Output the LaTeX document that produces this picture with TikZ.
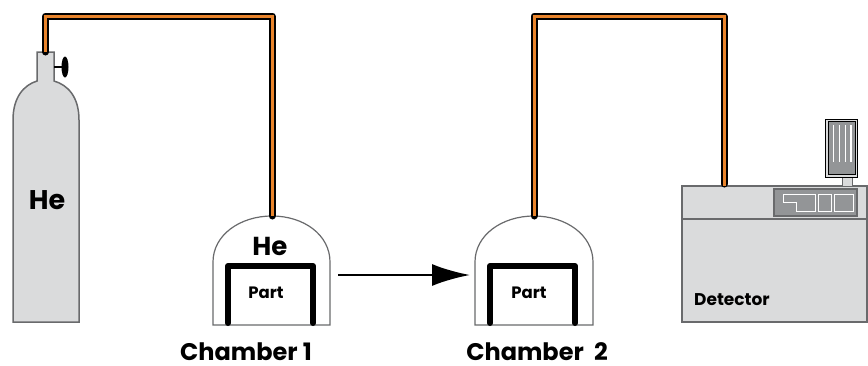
\documentclass[tikz,border=0pt]{standalone}
\usepackage{fontspec}
\setmainfont{Poppins}
\usetikzlibrary{arrows.meta}
\definecolor{gfill}{HTML}{DADBDC}
\definecolor{gedge}{HTML}{696A6C}
\definecolor{gpanel}{HTML}{939597}
\definecolor{pipeor}{HTML}{E8842C}
\tikzset{
  x=1pt,y=-1pt,
  pipeblack/.style={line width=7pt,black,line join=round,line cap=round},
  pipecore/.style={line width=3pt,pipeor,line join=miter},
  chamberline/.style={draw=gedge,line width=1.2pt,fill=white},
  partline/.style={line width=6pt,line cap=round,line join=round,black},
  equip/.style={draw=gedge,line width=1.5pt,fill=gfill},
  lbl/.style={font=\bfseries,inner sep=0pt,text=black},
  whiteline/.style={draw=white,line width=1pt}
}
\begin{document}
\begin{tikzpicture}
\useasboundingbox (0,0) rectangle (868,365);
% cylinder
\draw[equip] (37,52) -- (54,52) -- (54,81) .. controls (68,85) and (79,97) .. (79,120) -- (79,322) -- (13,322) -- (13,120) .. controls (13,97) and (24,85) .. (37,81) -- cycle;
\draw[line width=2.5pt] (54,67) -- (64,67);
\fill (65,67) ellipse (3.5 and 10.5);
\node[lbl,font=\bfseries\fontsize{27}{27}\selectfont] (hebig) at (47,200) {He};
% chambers
\draw[chamberline] (213,325) -- (213,262) .. controls (213,235) and (240,216) .. (272,216) .. controls (304,216) and (330,235) .. (330,262) -- (330,325) -- cycle;
\draw[chamberline] (475,325) -- (475,262) .. controls (475,235) and (502,216) .. (534,216) .. controls (566,216) and (593,235) .. (593,262) -- (593,325) -- cycle;
\draw[partline] (228,323) -- (228,266) -- (313,266) -- (313,323);
\draw[partline] (490,323) -- (490,266) -- (575,266) -- (575,323);
\node[lbl,font=\bfseries\fontsize{26}{26}\selectfont] (hecham) at (270,246) {He};
\node[lbl,font=\bfseries\fontsize{16.5}{16}\selectfont] (part1) at (266,293) {Part};
\node[lbl,font=\bfseries\fontsize{16.5}{16}\selectfont] (part2) at (529,293) {Part};
\node[lbl,font=\bfseries\fontsize{24}{24}\selectfont] (ch1) at (246,352) {Chamber 1};
\node[lbl,font=\bfseries\fontsize{24}{24}\selectfont] (ch2) at (537,352) {Chamber\ \ 2};
% arrow
\coordinate (arrA) at (338,275);
\coordinate (arrB) at (470,275);
\draw[line width=2.5pt,-{Latex[length=38pt,width=22pt,sharp]}] (arrA) -- (arrB);
% detector
\draw[equip] (682,186) rectangle (867,322);
\draw[gedge,line width=1.5pt] (682,219) -- (867,219);
\draw[draw=gedge,line width=1.5pt,fill=gpanel] (774,189) rectangle (857,216);
\draw[whiteline] (783,194) -- (815,194) -- (815,211) -- (796,211) -- (796,202) -- (783,202) -- cycle;
\draw[whiteline] (818,194) rectangle (831,211);
\draw[whiteline] (834,194) rectangle (853,211);
\draw[draw=gedge,line width=1pt,fill=gfill] (842,177) rectangle (852,186);
\draw[draw=black,line width=1pt,fill=gfill] (825,119) rectangle (857,177);
\draw[draw=black,line width=1pt,fill=gpanel] (828,121.5) rectangle (855,174.5);
\foreach \i in {833.5,839.5,845.5,851} \draw[white,line width=1.2pt] (\i,125) -- (\i,162);
\node[lbl,font=\bfseries\fontsize{17}{17}\selectfont,anchor=west] (det) at (694,300) {Detector};
% pipes
\coordinate (pa) at (45.5,52);
\coordinate (pb) at (272,216);
\coordinate (pc) at (534,216);
\coordinate (pd) at (724,186);
\draw[pipeblack] (pa) -- (45.5,16) -- (272,16) -- (pb);
\draw[pipecore] (pa) -- (45.5,16) -- (272,16) -- (pb);
\draw[pipeblack] (pc) -- (534,16) -- (724,16) -- (724,184);
\draw[pipecore] (pc) -- (534,16) -- (724,16) -- (pd);
\end{tikzpicture}
\end{document}
